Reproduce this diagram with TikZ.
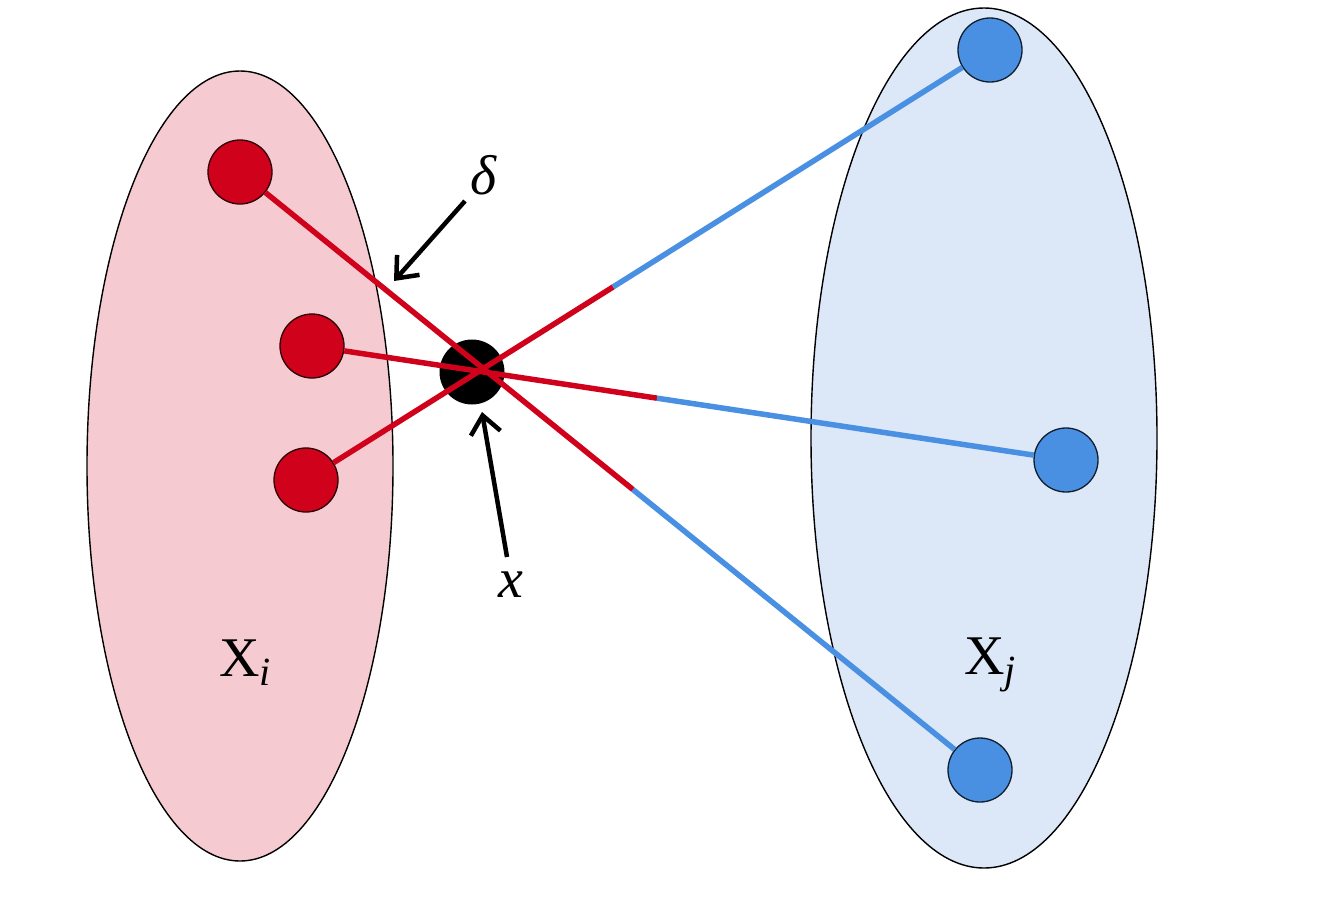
\documentclass[tikz,border=0pt]{standalone}
\usepackage{fontspec}
\setmainfont{Liberation Serif}
\usetikzlibrary{shapes.geometric,arrows.meta,calc}
\definecolor{dred}{HTML}{D0021B}
\definecolor{dblue}{HTML}{4A90E2}
\definecolor{pinkfill}{HTML}{F5CBD1}
\definecolor{bluefill}{HTML}{DCE8F8}
\tikzset{
  setshape/.style={ellipse, draw=black, line width=1.4pt, inner sep=0pt},
  rednode/.style={circle, fill=dred, draw=black!80!dred, line width=1.3pt, minimum size=64pt, inner sep=0pt},
  bluenode/.style={circle, fill=dblue, draw=black!80!dblue, line width=1.3pt, minimum size=64pt, inner sep=0pt},
  pnode/.style={circle, fill=black, minimum size=65pt, inner sep=0pt},
  redline/.style={dred, line width=5.5pt},
  blueline/.style={dblue, line width=5.5pt},
  pointer/.style={-{Straight Barb[length=18pt,width=30pt,line width=4.5pt]}, line width=4.5pt, black},
  lbl/.style={font=\fontsize{56}{60}\selectfont, inner sep=0pt}
}
\begin{document}
\begin{tikzpicture}[x=1pt,y=-1pt]
\useasboundingbox (0,0) rectangle (1324,916);
\node[setshape, fill=pinkfill, minimum width=306pt, minimum height=790pt] (Xi) at (240,466) {};
\node[setshape, fill=bluefill, minimum width=346pt, minimum height=860pt] (Xj) at (984,438) {};
\node[lbl] (lXi) at (245,663) {X\raisebox{-9pt}{\fontsize{40}{40}\selectfont\itshape i}};
\node[lbl] (lXj) at (990,665) {X\raisebox{-9pt}{\fontsize{40}{40}\selectfont\itshape j}};

\node[pnode] (x) at (472,372) {};

\node[rednode] (r1) at (240,172) {};
\node[rednode] (r2) at (312,346) {};
\node[rednode] (r3) at (306,480) {};
\node[bluenode] (b1) at (990,50) {};
\node[bluenode] (b2) at (1066,460) {};
\node[bluenode] (b3) at (980,770) {};

\coordinate (m1) at ($(r1)!0.531!(b3)$);
\coordinate (m2) at ($(r2)!0.4576!(b2)$);
\coordinate (m3) at ($(r3)!0.449!(b1)$);
\draw[redline] (r1) -- (m1);
\draw[blueline] (m1) -- (b3);
\draw[redline] (r2) -- (m2);
\draw[blueline] (m2) -- (b2);
\draw[redline] (r3) -- (m3);
\draw[blueline] (m3) -- (b1);

\node[lbl] (delta) at (484,175) {\itshape δ};
\coordinate (dstart) at (465,201);
\coordinate (dend) at (394,281);
\draw[pointer] (dstart) -- (dend);
\node[lbl] (xl) at (511,585) {\itshape x};
\coordinate (xstart) at (507,557);
\coordinate (xend) at (482,412);
\draw[pointer] (xstart) -- (xend);
\end{tikzpicture}
\end{document}
